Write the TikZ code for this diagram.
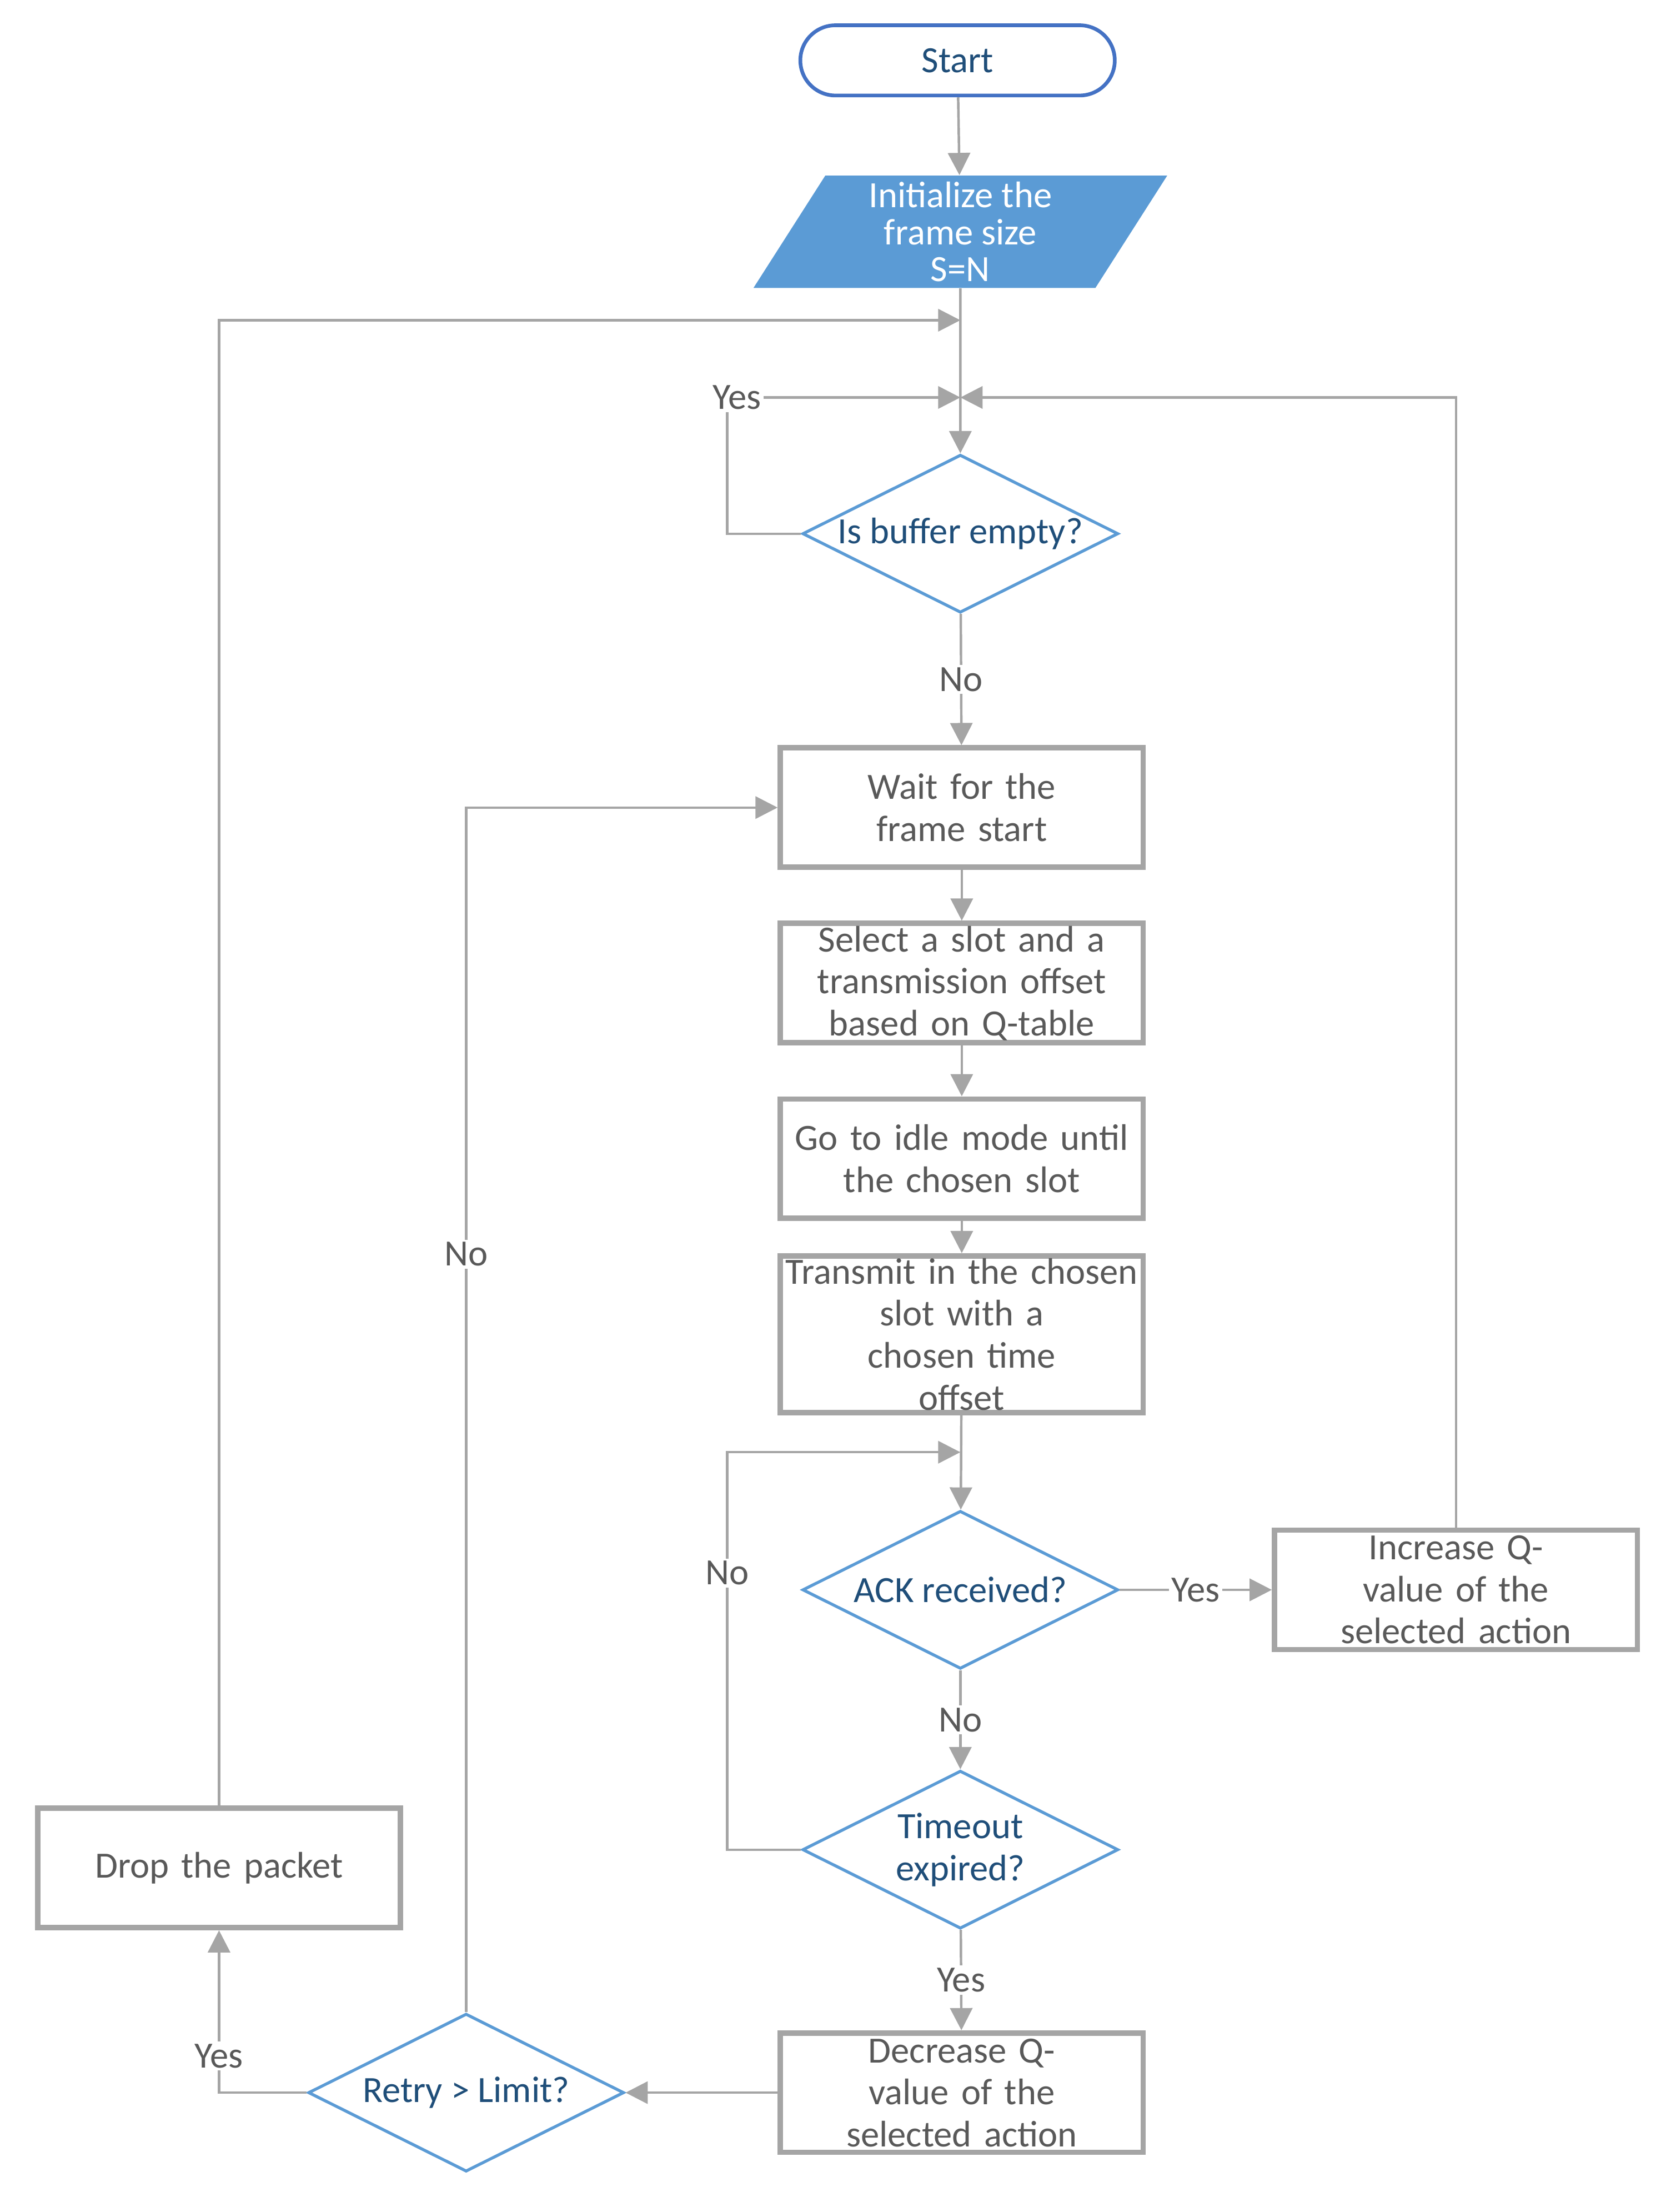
\documentclass[tikz,border=0pt]{standalone}
\usepackage{fontspec}
\setmainfont{Carlito}
\usetikzlibrary{shapes.geometric,arrows.meta}
\definecolor{lgray}{HTML}{A5A5A5}
\definecolor{tgray}{HTML}{595959}
\definecolor{sblue}{HTML}{5B9BD5}
\definecolor{dblue}{HTML}{1F4E79}
\definecolor{startblue}{HTML}{4472C4}
\begin{document}
\begin{tikzpicture}[x=0.02cm,y=-0.02cm,
  font=\fontsize{15}{17}\selectfont,
  box/.style={draw=lgray,line width=2.2pt,minimum width=5.15cm,minimum height=1.7cm,text width=5.1cm,inner sep=1pt,align=center,text=tgray},
  dec/.style={diamond,aspect=2,draw=sblue,line width=1.2pt,minimum width=4.5cm,minimum height=2.25cm,inner sep=0pt,align=center,text=dblue},
  line/.style={draw=lgray,line width=1pt},
  arr/.style={line,-{Triangle[length=9pt,width=9pt]}},
  lbl/.style={fill=white,text=tgray,inner sep=1pt}]
\useasboundingbox (0,0) rectangle (1190,1575);
\node[draw=startblue,line width=1.5pt,rounded corners=0.5cm,minimum width=4.48cm,minimum height=1cm,text=dblue] (start) at (682,43) {Start};
\node[trapezium,trapezium stretches=true,trapezium left angle=64,trapezium right angle=116,fill=sblue,minimum width=5.9cm,minimum height=1.6cm,inner sep=0pt,text=white,align=center,font=\fontsize{15}{15}\selectfont] (init) at (684,165) {Initialize the\\frame size\\S=N};
\node[dec] (empty) at (684,380) {Is buffer empty?};
\node[box] (wait) at (685,575) {Wait for the frame start};
\node[box] (select) at (685,700) {Select a slot and a\\transmission offset\\based on Q-table};
\node[box] (idle) at (685,825) {Go to idle mode until\\the chosen slot};
\node[box] (tx) at (685,950) {Transmit in the chosen\\slot with a chosen time\\offset};
\node[dec] (ack) at (684,1132) {ACK received?};
\node[box] (inc) at (1037,1132) {Increase Q-value of the\\selected action};
\node[dec] (tout) at (684,1317) {Timeout\\expired?};
\node[box] (dcr) at (685,1490) {Decrease Q-value of the\\selected action};
\node[dec] (retry) at (332,1490) {Retry > Limit?};
\node[box] (drop) at (156,1330) {Drop the packet};
\coordinate (m1) at (684,228);
\coordinate (m2) at (684,283);
\coordinate (m3) at (684,1034);

% main column
\draw[arr] (start) -- (init);
\draw[arr] (init.south) -- (empty.north);
\draw[arr] (empty) -- node[lbl]{No} (wait);
\draw[arr] (wait) -- (select);
\draw[arr] (select) -- (idle);
\draw[arr] (idle) -- (tx);
\draw[arr] (tx) -- (ack);
\draw[arr] (ack) -- node[lbl]{No} (tout);
\draw[arr] (tout) -- node[lbl]{Yes} (dcr);
\draw[arr] (ack) -- node[lbl]{Yes} (inc);
\draw[arr] (dcr) -- (retry);

% loops
\draw[arr] (empty.west) -- (518,380) -- (518,283) -- (m2);
\draw[arr] (inc.north) -- (1037,283) -- (m2);
\draw[arr] (drop.north) -- (156,228) -- (m1);
\draw[arr] (tout.west) -- (518,1317) -- (518,1034) -- (m3);
\draw[arr] (retry.west) -- (156,1490) -- (drop.south);
\draw[arr] (retry.north) -- (332,575) -- (wait.west);
\node[lbl] (yes1) at (525,283) {Yes};
\node[lbl] (no2) at (518,1120) {No};
\node[lbl] (yes3) at (156,1464) {Yes};
\node[lbl] (no3) at (332,893) {No};
\end{tikzpicture}
\end{document}
